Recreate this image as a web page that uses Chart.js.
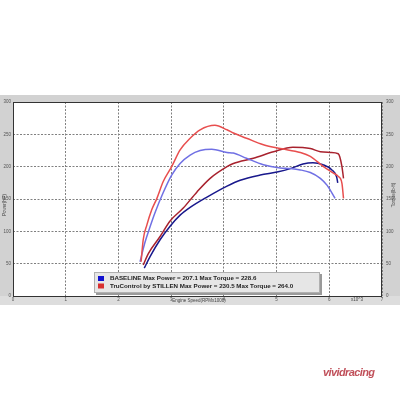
<!DOCTYPE html>
<html>
<head>
<meta charset="utf-8">
<script src="https://cdn.jsdelivr.net/npm/chart.js@4.4.1/dist/chart.umd.min.js"></script>
<style>
  html, body { margin: 0; padding: 0; background: #fff; width: 400px; height: 400px; overflow: hidden; }
  #wrap { position: relative; width: 400px; height: 400px; }
  canvas { position: absolute; left: 0; top: 0; }
  #logo { position: absolute; left: 323px; top: 366px; font: italic bold 11px "Liberation Sans"; color: #c0505a; letter-spacing: -0.6px; }
</style>
</head>
<body>
<div id="wrap">
  <canvas id="c" width="400" height="400"></canvas>
  <div id="logo">vividracing</div>
</div>
<script>
// engine speed (x1000 rpm) and values
const rpmStillenTq = [2.43, 2.47, 2.54, 2.63, 2.73, 2.85, 3.01, 3.17, 3.36, 3.55, 3.83, 4.06, 4.18, 4.43, 4.75, 5.07, 5.45, 5.64, 5.89, 6.08, 6.17, 6.24, 6.27];
const stillenTq    = [53, 87, 110, 133, 151, 177, 200, 226, 244, 257, 264, 257, 252, 244, 234, 228, 222, 216, 200, 190, 185, 174, 151];

const rpmBaseTq = [2.41, 2.50, 2.60, 2.69, 2.85, 3.01, 3.17, 3.36, 3.55, 3.77, 4.06, 4.18, 4.43, 4.75, 5.07, 5.26, 5.45, 5.64, 5.83, 5.96, 6.11];
const baseTq    = [53, 82, 107, 128, 160, 187, 205, 218, 225, 227, 222, 221, 213, 203, 198, 197, 195, 191, 182, 171, 151];

const rpmStillenHp = [2.47, 2.57, 2.79, 2.98, 3.23, 3.49, 3.74, 4.06, 4.18, 4.56, 4.94, 5.31, 5.64, 5.83, 6.02, 6.17, 6.20, 6.24, 6.27];
const stillenHp    = [48, 66, 92, 116, 136, 161, 182, 200, 205, 213, 223, 230, 228, 223, 222, 220, 215, 200, 182];

const rpmBaseHp = [2.49, 2.60, 2.79, 2.98, 3.17, 3.36, 3.68, 4.06, 4.31, 4.69, 5.03, 5.26, 5.50, 5.69, 5.88, 6.05, 6.14, 6.16];
const baseHp    = [43, 61, 87, 108, 125, 137, 153, 170, 179, 187, 192, 197, 204, 206, 203, 195, 184, 175];

const legendLines = [
  "BASELINE Max Power = 207.1 Max Torque = 228.6",
  "TruControl by STILLEN Max Power = 230.5 Max Torque = 264.0"
];
const legendColors = ["#1010d0", "#d83030"];

function pts(xs, ys) {
  return xs.map((x, i) => ({ x: x, y: ys[i] }));
}

function line(label, xs, ys, color, axis) {
  return {
    label: label,
    data: pts(xs, ys),
    borderColor: color,
    borderWidth: 1.5,
    pointRadius: 0,
    cubicInterpolationMode: "monotone",
    yAxisID: axis,
  };
}

const frame = {
  id: "frame",
  beforeDraw(chart) {
    const ctx = chart.ctx;
    const a = chart.chartArea;
    ctx.save();
    ctx.fillStyle = "#d2d2d2";
    ctx.fillRect(0, 95, 400, 210);
    ctx.fillStyle = "#dddddd";
    ctx.fillRect(0, a.bottom, 400, 9);
    ctx.fillStyle = "#ffffff";
    ctx.fillRect(a.left, a.top, a.right - a.left, a.bottom - a.top);
    ctx.restore();
  },
  afterDraw(chart) {
    const ctx = chart.ctx;
    const a = chart.chartArea;
    ctx.save();
    ctx.strokeStyle = "#333";
    ctx.lineWidth = 1;
    ctx.strokeRect(a.left + 0.5, a.top + 0.5, a.right - a.left - 1, a.bottom - a.top);

    // axis titles
    ctx.fillStyle = "#444";
    ctx.font = "4.5px 'Liberation Sans'";
    ctx.textAlign = "center";
    ctx.textBaseline = "middle";
    ctx.fillText("Engine Speed(RPMx1000)", 199, 300.5);
    ctx.fillText("x10^3", 357, 300);
    ctx.save();
    ctx.translate(5, 205);
    ctx.rotate(-Math.PI / 2);
    ctx.fillText("Power(HP)", 0, 0);
    ctx.restore();
    ctx.save();
    ctx.translate(394, 195);
    ctx.rotate(-Math.PI / 2);
    ctx.fillText("Torque(lb-ft)", 0, 0);
    ctx.restore();

    // legend box
    ctx.fillStyle = "#9a9a9a";
    ctx.fillRect(96, 274, 226, 21);
    ctx.fillStyle = "#e6e6e6";
    ctx.fillRect(94, 272, 226, 21);
    ctx.strokeStyle = "#b0b0b0";
    ctx.strokeRect(94.5, 272.5, 225, 20);
    ctx.textAlign = "left";
    ctx.font = "bold 6.2px 'Liberation Sans'";
    legendLines.forEach((t, i) => {
      const y = 278.5 + i * 7.5;
      ctx.fillStyle = legendColors[i];
      ctx.fillRect(98, y - 2.5, 6, 5);
      ctx.fillStyle = "#222";
      ctx.fillText(t, 110, y);
    });
    ctx.restore();
  }
};

const tickFont = { size: 4.5, family: "Liberation Sans" };

new Chart(document.getElementById("c"), {
  type: "line",
  data: {
    datasets: [
      line("STILLEN torque", rpmStillenTq, stillenTq, "rgb(232,78,78)", "y2"),
      line("Baseline torque", rpmBaseTq, baseTq, "rgb(112,112,228)", "y2"),
      line("STILLEN power", rpmStillenHp, stillenHp, "rgb(168,34,46)", "y"),
      line("Baseline power", rpmBaseHp, baseHp, "rgb(24,24,140)", "y"),
    ],
  },
  options: {
    responsive: false,
    animation: false,
    layout: { padding: { top: 102, bottom: 96, left: 0, right: 0 } },
    plugins: { legend: { display: false }, tooltip: { enabled: false } },
    scales: {
      x: {
        type: "linear",
        min: 0,
        max: 7,
        ticks: { stepSize: 1, font: tickFont, color: "#555", padding: 1, maxRotation: 0 },
        grid: { color: "#808080", lineWidth: 1, drawTicks: false },
        border: { display: false, dash: [2, 1.5] },
        afterFit(s) { s.height = 8; },
      },
      y: {
        position: "left",
        min: 0,
        max: 300,
        ticks: { stepSize: 50, font: tickFont, color: "#555", padding: 2 },
        grid: { color: "#808080", lineWidth: 1, drawTicks: false },
        border: { display: false, dash: [2, 1.5] },
        afterFit(s) { s.width = 13; },
      },
      y2: {
        position: "right",
        min: 0,
        max: 300,
        ticks: { stepSize: 50, font: tickFont, color: "#555", padding: 4 },
        grid: { display: false, drawTicks: false },
        border: { display: false },
        afterFit(s) { s.width = 18; },
      },
    },
  },
  plugins: [frame],
});
</script>
</body>
</html>
